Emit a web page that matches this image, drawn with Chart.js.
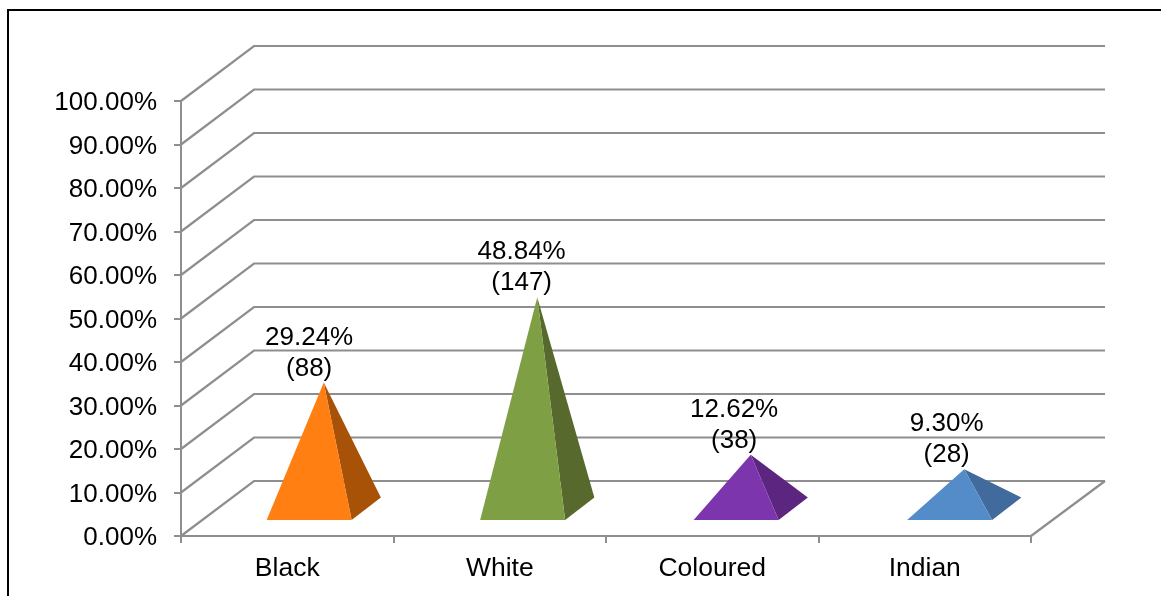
<!DOCTYPE html>
<html>
<head>
<meta charset="utf-8">
<title>Population groups</title>
<script src="https://cdn.jsdelivr.net/npm/chart.js@4"></script>
<style>
  html, body { margin: 0; padding: 0; background: #fff; overflow: hidden; }
  #frame { position: absolute; left: 7px; top: 9px; width: 1300px; height: 800px; border: 2px solid #000; }
  #chart { position: absolute; left: 0; top: 0; }
</style>
</head>
<body>
<div id="frame"></div>
<canvas id="chart" width="1161" height="596"></canvas>
<script>
const groups = ['Black', 'White', 'Coloured', 'Indian'];
const percentages = [29.24, 48.84, 12.62, 9.30];
const counts = [88, 147, 38, 28];
const frontColors = ['#ff7f12', '#7f9f45', '#7d35ae', '#548bc9'];
const sideColors = ['#a85208', '#57692d', '#5b2580', '#416b9c'];

// oblique projection of the chart box
const depthX = 73;
const depthY = -55;
const backStretch = 1; // back edge runs slightly wider than the front axis
const gridColor = '#8e8e8e';
const fontFamily = '"Liberation Sans", Arial, sans-serif';

function polygon(ctx, pts, color) {
  ctx.fillStyle = color;
  ctx.beginPath();
  pts.forEach((p, i) => i ? ctx.lineTo(p[0], p[1]) : ctx.moveTo(p[0], p[1]));
  ctx.closePath();
  ctx.fill();
}

const box3d = {
  id: 'box3d',
  // wall and floor lines running back from the value axis
  beforeDatasetsDraw(chart) {
    const { ctx, scales: { x, y } } = chart;
    ctx.save();
    ctx.strokeStyle = gridColor;
    ctx.lineWidth = 2.2;
    y.ticks.forEach(t => {
      const py = y.getPixelForValue(t.value);
      ctx.beginPath();
      ctx.moveTo(x.left, py);
      ctx.lineTo(x.left + depthX, py + depthY);
      ctx.lineTo(x.right + depthX + backStretch, py + depthY);
      ctx.stroke();
    });
    const floor = y.getPixelForValue(0);
    ctx.beginPath();
    ctx.moveTo(x.right, floor);
    ctx.lineTo(x.right + depthX + backStretch, floor + depthY);
    ctx.stroke();
    ctx.restore();
  },
  // each pyramid sits in the middle of the floor, apex at its value
  afterDatasetsDraw(chart) {
    const { ctx, scales: { x, y } } = chart;
    const floor = y.getPixelForValue(0);
    ctx.save();
    chart.getDatasetMeta(0).data.forEach((bar, i) => {
      const half = bar.width / 2;
      const skew = 4 * (bar.x - x.left) / x.width - 0.5;
      const frontY = floor + depthY * 0.29;
      const frontX = bar.x + depthX * 0.3 + skew;
      const backRight = [bar.x + half + depthX * 0.7 + skew, floor + depthY * 0.7];
      const apex = [bar.x + depthX * 0.5 + skew, bar.y + depthY * 0.48];
      polygon(ctx, [apex, [frontX + half, frontY], backRight], sideColors[i]);
      polygon(ctx, [apex, [frontX - half, frontY], [frontX + half, frontY]], frontColors[i]);

      const labelX = bar.x + depthX * 0.3;
      ctx.fillStyle = '#000';
      ctx.font = '26px ' + fontFamily;
      ctx.textAlign = 'center';
      ctx.textBaseline = 'middle';
      ctx.fillText(percentages[i].toFixed(2) + '%', labelX, apex[1] - 45);
      ctx.fillText('(' + counts[i] + ')', labelX, apex[1] - 14);
    });
    ctx.restore();
  }
};

new Chart(document.getElementById('chart'), {
  type: 'bar',
  data: {
    labels: groups,
    datasets: [{
      data: percentages,
      backgroundColor: 'transparent',
      categoryPercentage: 1,
      barPercentage: 0.4
    }]
  },
  options: {
    responsive: false,
    animation: false,
    layout: { padding: { top: 101, right: 130, left: 0, bottom: 0 } },
    plugins: { legend: { display: false }, tooltip: { enabled: false } },
    scales: {
      x: {
        afterFit: s => { s.height = 60; },
        grid: { offset: true, drawOnChartArea: false, color: gridColor, lineWidth: 2, tickLength: 7 },
        border: { color: gridColor, width: 2 },
        ticks: {
          color: '#000',
          padding: 10,
          maxRotation: 0,
          font: { family: fontFamily, size: 26.5 }
        }
      },
      y: {
        min: 0,
        max: 100,
        afterFit: s => { s.width = 181; },
        grid: { drawOnChartArea: false, color: gridColor, lineWidth: 2, tickLength: 7 },
        border: { color: gridColor, width: 2 },
        ticks: {
          stepSize: 10,
          color: '#000',
          padding: 17,
          labelOffset: 2,
          font: { family: fontFamily, size: 26 },
          callback: v => v.toFixed(2) + '%'
        }
      }
    }
  },
  plugins: [box3d]
});
</script>
</body>
</html>
